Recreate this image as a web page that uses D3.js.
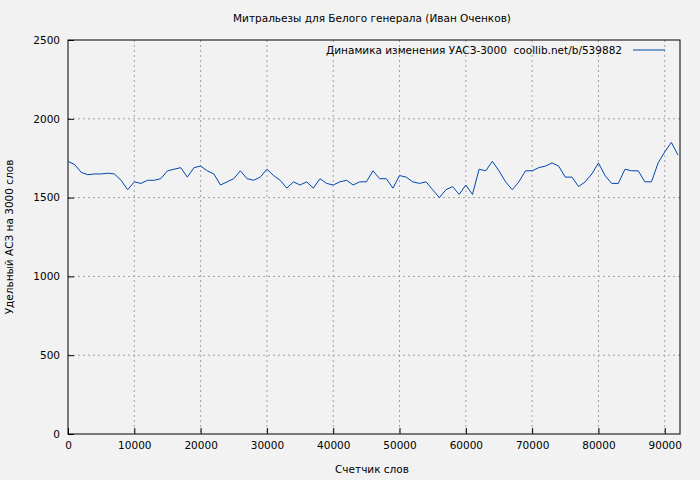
<!DOCTYPE html><html><head><meta charset="utf-8"><script src="https://cdn.jsdelivr.net/npm/d3@7"></script>
<style>body{margin:0;background:#f2f2f2}text{font-family:"DejaVu Sans";font-size:10.5px;fill:#000}</style></head><body><svg id="c" width="700" height="480"></svg><script>
const words=d3.range(0,93000,1000);
const values=[1730,1710,1660,1645,1650,1650,1655,1650,1610,1550,1600,1590,1610,1610,1620,1670,1680,1690,1630,1690,1700,1670,1650,1580,1600,1620,1670,1620,1610,1630,1680,1640,1610,1560,1600,1580,1600,1560,1620,1590,1580,1600,1610,1580,1600,1600,1670,1620,1620,1560,1640,1630,1600,1590,1600,1550,1500,1550,1570,1520,1580,1520,1680,1670,1730,1670,1600,1550,1600,1670,1670,1690,1700,1720,1700,1630,1630,1570,1600,1650,1720,1640,1590,1590,1680,1670,1670,1600,1600,1720,1790,1850,1770];
const xTicks=[0,10000,20000,30000,40000,50000,60000,70000,80000,90000];
const yTicks=[0,500,1000,1500,2000,2500];
const svg=d3.select("#c");
const L=68,R=680,T=40,B=434;
const x=d3.scaleLinear().domain([0,92300]).range([L,R]);
const y=d3.scaleLinear().domain([0,2500]).range([B,T]);
svg.append("rect").attr("width",700).attr("height",480).attr("fill","#f2f2f2");
const g=svg.append("g");
g.selectAll(".gx").data(xTicks.slice(1)).join("line").attr("x1",d=>x(d)).attr("x2",d=>x(d)).attr("y1",T).attr("y2",B).attr("stroke","#a0a0a0").attr("stroke-dasharray","2,3");
g.selectAll(".gy").data(yTicks.slice(1,-1)).join("line").attr("y1",d=>y(d)).attr("y2",d=>y(d)).attr("x1",L).attr("x2",R).attr("stroke","#a0a0a0").attr("stroke-dasharray","2,3");
svg.append("rect").attr("x",L).attr("y",T).attr("width",R-L).attr("height",B-T).attr("fill","none").attr("stroke","#000");
svg.append("g").attr("transform",`translate(0,${B})`).call(d3.axisBottom(x).tickValues(xTicks).tickSize(-6).tickPadding(8).tickFormat(d3.format("d"))).call(a=>a.select(".domain").remove()).selectAll("text").style("font-family","DejaVu Sans").style("font-size","10.5px");
svg.append("g").attr("transform",`translate(${L},0)`).call(d3.axisLeft(y).tickValues(yTicks).tickSize(-6).tickPadding(8).tickFormat(d3.format("d"))).call(a=>a.select(".domain").remove()).selectAll("text").style("font-family","DejaVu Sans").style("font-size","10.5px");
svg.append("path").datum(values).attr("fill","none").attr("stroke","#0047b0").attr("stroke-width",1)
 .attr("d",d3.line().x((d,i)=>x(words[i])).y(d=>y(d)));
svg.append("text").attr("x",372).attr("y",22).attr("text-anchor","middle").text("Митральезы для Белого генерала (Иван Оченков)");
svg.append("text").attr("x",622).attr("y",54).attr("text-anchor","end").attr("xml:space","preserve").style("white-space","pre").text("Динамика изменения УАСЗ-3000  coollib.net/b/539882");
svg.append("line").attr("x1",633).attr("x2",665).attr("y1",50).attr("y2",50).attr("stroke","#0047b0");
svg.append("text").attr("x",372).attr("y",473).attr("text-anchor","middle").text("Счетчик слов");
svg.append("text").attr("transform","translate(13,237) rotate(-90)").attr("text-anchor","middle").text("Удельный АСЗ на 3000 слов");
</script></body></html>
